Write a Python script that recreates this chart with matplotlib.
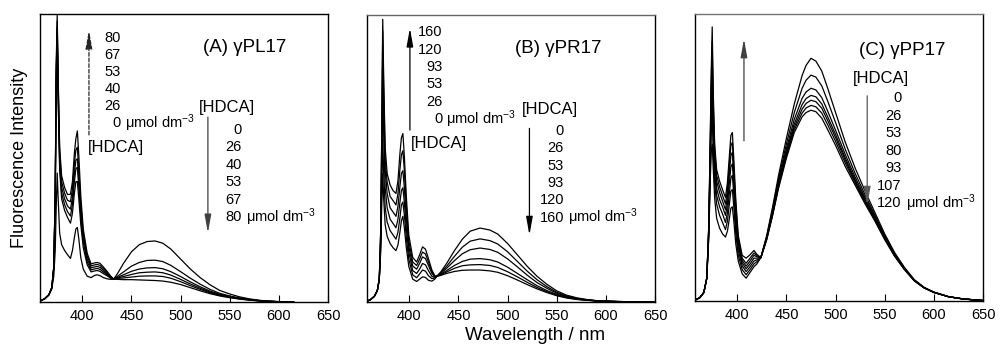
import matplotlib
matplotlib.use('Agg')
import matplotlib.pyplot as plt

plt.rcParams['font.family'] = ['Liberation Sans', 'DejaVu Sans']
plt.rcParams['mathtext.fontset'] = 'custom'
plt.rcParams['mathtext.rm'] = 'Liberation Sans'
plt.rcParams['mathtext.it'] = 'Liberation Sans:italic'

# ---- (A) gamma-PL17 ----
wl_a = [357, 362, 366, 369, 371, 372.5, 373.5, 374.5, 375.5, 377, 379, 382, 385, 388, 390, 392,
        393.5, 395, 396.5, 398.5, 401, 405, 409, 412, 415, 418, 421, 425, 429, 432, 436, 442,
        450, 458, 466, 474, 482, 490, 500, 510, 520, 530, 540, 550, 560, 570, 580, 590, 600, 615]
a_0 = [0.3, 1.2, 2.5, 4.5, 9, 18, 33, 45, 36, 24, 20, 18, 16.5, 15.2, 18, 22.5, 25.5, 26, 22, 15.5,
       11.5, 9, 8.5, 9.2, 9.5, 9.2, 8.6, 8.1, 7.9, 8.0, 10, 13.5, 17.5, 20, 21.1, 21.3, 20.5, 18.5, 15, 11.5,
       8.5, 6, 4, 2.8, 1.8, 1.1, 0.6, 0.3, 0.15, 0.0]
a_26 = [0.3, 1.2, 2.5, 5, 12, 35, 75, 92, 70, 46, 36, 32, 29.5, 27.5, 31, 38, 42, 42, 36, 27,
        19, 13, 10.5, 10.8, 11, 10.7, 10, 9.2, 8.3, 8.0, 9, 10.5, 12.5, 13.8, 14.5, 14.6, 14.1, 12.8, 10.6, 8.3,
        6.2, 4.4, 3.0, 2.1, 1.4, 0.9, 0.5, 0.3, 0.1, 0.0]
a_40 = [0.3, 1.2, 2.5, 5, 12, 36, 77, 94, 72, 48, 38, 34, 31.5, 30, 34, 42, 46.5, 47, 40, 30,
        21, 14, 11.2, 11.5, 11.7, 11.4, 10.6, 9.6, 8.4, 8.0, 8.6, 9.5, 10.7, 11.5, 11.9, 12.0, 11.6, 10.6, 8.9, 7.0,
        5.3, 3.8, 2.7, 1.9, 1.3, 0.8, 0.5, 0.25, 0.1, 0.0]
a_53 = [0.3, 1.2, 2.5, 5, 12, 37, 79, 96, 74, 50, 40, 36, 33.5, 32.4, 36.5, 45, 49.5, 50, 43, 32,
        22.5, 15, 11.9, 12.2, 12.4, 12.1, 11.2, 10.0, 8.6, 8.0, 8.4, 8.9, 9.6, 10.2, 10.4, 10.5, 10.2, 9.4, 7.9, 6.3,
        4.8, 3.5, 2.5, 1.8, 1.2, 0.8, 0.45, 0.25, 0.1, 0.0]
a_67 = [0.3, 1.2, 2.5, 5, 12, 38, 81, 98, 76, 52, 42, 38, 35.5, 35, 39.5, 48.5, 53, 54, 46, 34,
        24, 16, 12.6, 12.9, 13.1, 12.8, 11.8, 10.4, 8.8, 8.0, 8.2, 8.4, 8.7, 9.0, 9.1, 9.1, 8.9, 8.3, 7.1, 5.7,
        4.4, 3.2, 2.3, 1.7, 1.1, 0.7, 0.4, 0.2, 0.1, 0.0]
a_80 = [0.3, 1.2, 2.5, 5, 12, 39, 83, 100, 78, 54, 44, 40, 37.5, 37.6, 42, 52, 57, 59.7, 51, 37,
        25.5, 17, 13.3, 13.6, 13.8, 13.5, 12.4, 10.8, 9.0, 8.0, 7.9, 7.8, 7.8, 7.7, 7.6, 7.5, 7.3, 6.9, 6.1, 5.0,
        3.9, 2.9, 2.1, 1.5, 1.0, 0.65, 0.35, 0.2, 0.1, 0.0]
conc_a = ['0', '26', '40', '53', '67', '80']

# ---- (B) gamma-PR17 ----
wl_b = [357, 360.5, 364.5, 367.5, 369.5, 371, 372, 373, 374, 375.5, 377.5, 380.5, 383.5, 386.5,
        388.5, 390.5, 392, 393.5, 395, 397, 399.5, 403.5, 407.5, 410.5, 413.5, 416.5, 419.5, 423,
        426, 428, 432, 438, 446, 454, 462, 472, 482, 490, 500, 510, 520, 530, 540, 550, 560, 570,
        580, 590, 600, 615, 630, 649]
b_0 = [0.3, 0.8, 2, 4, 8, 18, 34, 45, 36, 27, 23, 20.5, 19, 18, 20, 24.5, 28.5, 30, 26, 19,
       12.5, 8, 7.2, 8, 8.8, 8.6, 7.6,
       7.3, 8.0, 9.0, 10.5, 13.5, 18, 22, 24.8, 25.9, 25.2, 23.8, 20.5, 16.5, 12.5, 9.0, 6.2, 3.9, 2.4,
       1.5, 0.9, 0.5, 0.3, 0.15, 0.05, 0.0]
b_26 = [0.3, 0.8, 2, 4, 8, 20, 40, 57, 45, 33, 28, 25, 23.5, 22, 24.5, 29.5, 34, 35, 30.5, 22.5,
        15, 9.5, 8.5, 9.8, 11.2, 10.8, 9.2,
        8.2, 8.4, 9.0, 10.2, 12.5, 16, 19.2, 21.3, 22.1, 21.5, 20.3, 17.6, 14.2, 10.8, 7.8, 5.4, 3.4, 2.1,
        1.3, 0.8, 0.45, 0.3, 0.15, 0.05, 0.0]
b_53 = [0.3, 0.8, 2, 4, 8, 22, 48, 75, 58, 40, 33, 29, 27.5, 26, 29, 35, 39, 40, 35, 26,
        17.5, 11, 10, 11.5, 13.5, 13, 11,
        9.0, 8.6, 9.0, 10.0, 11.8, 14.5, 16.9, 18.3, 18.9, 18.4, 17.4, 15.1, 12.3, 9.4, 6.8, 4.8, 3.1, 1.9,
        1.2, 0.75, 0.45, 0.3, 0.15, 0.05, 0.0]
b_93 = [0.3, 0.8, 2, 4, 8, 24, 55, 88, 68, 46, 38, 33, 31.5, 30, 33.5, 40.5, 45, 46, 40, 29.5,
        19.5, 12.6, 11.5, 13.5, 15.8, 15.2, 12.8,
        10.0, 8.8, 9.0, 9.7, 11.0, 12.8, 14.2, 15.0, 15.2, 14.8, 14.0, 12.2, 10.0, 7.8, 5.7, 4.0, 2.7, 1.7,
        1.1, 0.7, 0.4, 0.25, 0.1, 0.05, 0.0]
b_120 = [0.3, 0.8, 2, 4, 8, 25, 58, 95, 74, 50, 42, 37, 35.5, 34, 38, 46.5, 51.5, 53, 46, 33.5,
         21.5, 14, 12.8, 15, 17.5, 16.8, 14,
         10.6, 9.0, 9.0, 9.5, 10.5, 11.8, 12.7, 13.0, 13.1, 12.8, 12.1, 10.6, 8.8, 6.9, 5.1, 3.6, 2.4, 1.6,
         1.0, 0.65, 0.4, 0.25, 0.1, 0.05, 0.0]
b_160 = [0.3, 0.8, 2, 4, 8, 26, 60, 99, 78, 54, 45, 41, 39, 38, 42.5, 52, 57.5, 59, 51, 37,
         23.5, 15.6, 14, 16.5, 19.3, 18.5, 15.2,
         11.2, 9.2, 9.0, 9.3, 10.0, 10.7, 11.1, 11.2, 11.2, 10.9, 10.4, 9.2, 7.7, 6.1, 4.6, 3.3, 2.2, 1.4,
         0.9, 0.6, 0.35, 0.2, 0.1, 0.05, 0.0]
conc_b = ['0', '26', '53', '93', '120', '160']

# ---- (C) gamma-PP17 ----
wl_c = [357, 362, 366, 369, 371, 372.5, 373.5, 374.5, 375.5, 377, 379, 382, 385, 388, 390, 392,
        393.5, 395, 396.5, 398.5, 401, 405, 409, 413, 417, 420,
        424, 430, 436, 442, 450, 458, 466, 470, 475, 480, 486, 492, 500, 510, 520, 530, 540, 550,
        560, 570, 580, 590, 600, 615, 630, 649]
c_0 = [0.3, 1.2, 3, 8, 22, 42, 52, 55, 47, 36, 29, 25.5, 23.5, 22.4, 24.5, 29, 32.5, 33, 28, 20,
       14, 9.5, 8, 10, 12, 13,
       15.2, 23, 33, 44, 57, 69, 79, 82.5, 85, 84, 80.5, 74.5, 66, 55.5, 46.5, 38.5, 31, 23.5, 17, 11.8,
       7.5, 4.8, 3.1, 1.5, 0.7, 0.2]
c_26 = [0.3, 1.2, 3, 8, 23, 45, 59, 65, 53, 41, 34, 30, 27.5, 25, 28, 34, 38.5, 39, 33, 23.5,
        16, 11, 9.2, 11, 13, 13.8,
        15.2, 22.6, 32.2, 42.8, 55, 66, 74.5, 77.3, 79.1, 78.4, 75.3, 70, 62.5, 53, 44.6, 37.2, 30.1, 22.9,
        16.6, 11.6, 7.4, 4.7, 3.1, 1.5, 0.7, 0.2]
c_53 = [0.3, 1.2, 3, 8, 24, 48, 64, 73, 58, 45, 37, 33, 30.5, 27.5, 31, 38, 43, 44, 37, 26.5,
        17.8, 12.3, 10.3, 12, 14, 14.4,
        15.2, 22.3, 31.5, 41.8, 53.4, 63.6, 71, 73.2, 74.5, 73.9, 71.2, 66.5, 59.8, 51.2, 43.3, 36.3, 29.5,
        22.5, 16.4, 11.5, 7.3, 4.7, 3.1, 1.5, 0.7, 0.2]
c_80 = [0.3, 1.2, 3, 8, 25, 51, 69, 80, 63, 48, 39.5, 35.5, 33, 30, 34, 41.5, 47, 48, 40.5, 29,
        19.2, 13.3, 11.3, 13, 15, 15,
        15.2, 22.1, 31, 41, 52.3, 62, 68.8, 70.9, 72, 71.5, 69, 64.5, 58.3, 50, 42.4, 35.6, 29, 22.2,
        16.2, 11.3, 7.2, 4.7, 3.0, 1.5, 0.7, 0.2]
c_93 = [0.3, 1.2, 3, 8, 25.5, 53, 73, 86, 67, 51, 42, 38, 35, 32, 36.5, 45, 51, 52, 43.5, 31.5,
        20.5, 14.2, 12.2, 14, 16, 15.5,
        15.2, 21.9, 30.6, 40.4, 51.5, 60.9, 67.2, 69.2, 70.3, 69.8, 67.5, 63.2, 57.2, 49.2, 41.8, 35.1,
        28.7, 22, 16, 11.2, 7.2, 4.6, 3.0, 1.5, 0.7, 0.2]
c_107 = [0.3, 1.2, 3, 8, 26, 55, 77, 91, 70, 53, 44, 40, 37, 34, 39, 48, 54.5, 55.5, 46.5, 33.5,
         21.8, 15, 13.2, 15, 16.8, 15.9,
         15.2, 21.7, 30.3, 40, 50.8, 60, 65.8, 67.6, 68.5, 68, 65.8, 61.7, 55.9, 48.2, 41.2, 34.6, 28.3,
         21.7, 15.8, 11.1, 7.1, 4.6, 3.0, 1.5, 0.7, 0.2]
c_120 = [0.3, 1.2, 3, 8, 26.5, 57, 80, 96, 74, 55, 46, 42, 39, 36.3, 41.5, 51, 58, 59, 49.5, 35.5,
         23, 16, 15, 16.2, 17.7, 16.3,
         15.2, 21.5, 30, 39.5, 50, 59, 64.5, 66, 66.8, 66.3, 64, 60, 54.5, 47, 40.5, 34, 28, 21.5,
         15.7, 11, 7.1, 4.6, 3.0, 1.5, 0.7, 0.2]
conc_c = ['0', '26', '53', '80', '93', '107', '120']

ticks = [400, 450, 500, 550, 600, 650]
unit = ' \u03bcmol dm$^{-3}$'

fig = plt.figure(figsize=(10.01, 3.57), dpi=100)


def column(ax, labels, x, y0, dy):
    # numbers right aligned, unit after the last one
    for i, lab in enumerate(labels):
        y = y0 - i * dy
        ax.text(x, y, lab, transform=ax.transAxes, ha='right', va='center', fontsize=10.5)
        if i == len(labels) - 1:
            ax.text(x, y, unit, transform=ax.transAxes, ha='left', va='center', fontsize=10.5)


def arrow(ax, x, y_from, y_to, color='black', ls='-'):
    ax.annotate('', xy=(x, y_to), xytext=(x, y_from), xycoords='axes fraction',
                arrowprops=dict(arrowstyle='-|>,head_length=1.0,head_width=0.18', lw=0.9,
                                color=color, linestyle=ls, shrinkA=0, shrinkB=0,
                                mutation_scale=11))


panels = [
    dict(rect=[40 / 1001, 55 / 357, 288 / 1001, 288 / 357], wl=wl_a,
         curves=[a_0, a_26, a_40, a_53, a_67, a_80], title='(A) \u03b3PL17'),
    dict(rect=[367 / 1001, 55 / 357, 288 / 1001, 287 / 357], wl=wl_b,
         curves=[b_0, b_26, b_53, b_93, b_120, b_160], title='(B) \u03b3PR17'),
    dict(rect=[695 / 1001, 56 / 357, 288 / 1001, 287 / 357], wl=wl_c,
         curves=[c_0, c_26, c_53, c_80, c_93, c_107, c_120], title='(C) \u03b3PP17'),
]

axes = []
for p in panels:
    ax = fig.add_axes(p['rect'])
    for spec in p['curves']:
        ax.plot(p['wl'], spec, color='black', lw=0.9)
    ax.set_xlim(357, 650)
    ax.set_ylim(0, 100.5)
    ax.set_xticks(ticks)
    ax.set_yticks([])
    ax.tick_params(axis='x', direction='in', length=5, width=0.8, pad=5, labelsize=10.5,
                   top=False)
    for s in ax.spines.values():
        s.set_linewidth(1.0)
    axes.append(ax)

ax_a, ax_b, ax_c = axes
ax_b.spines['top'].set_color('0.4')
ax_c.spines['top'].set_color('0.45')

# panel A annotations
ax_a.text(0.566, 0.882, panels[0]['title'], transform=ax_a.transAxes, ha='left', va='center', fontsize=13.5)
arrow(ax_a, 0.170, 0.580, 0.944, color='0.15', ls=(0, (3, 1.5)))
column(ax_a, conc_a[::-1], 0.28, 0.918, 0.0596)
ax_a.text(0.167, 0.535, '[HDCA]', transform=ax_a.transAxes, ha='left', va='center', fontsize=12)
ax_a.text(0.552, 0.677, '[HDCA]', transform=ax_a.transAxes, ha='left', va='center', fontsize=12)
arrow(ax_a, 0.583, 0.642, 0.240, color='0.25')
column(ax_a, conc_a, 0.701, 0.597, 0.0604)

# panel B annotations
ax_b.text(0.514, 0.884, panels[1]['title'], transform=ax_b.transAxes, ha='left', va='center', fontsize=13.5)
arrow(ax_b, 0.149, 0.599, 0.954)
column(ax_b, conc_b[::-1], 0.262, 0.940, 0.0604)
ax_b.text(0.153, 0.553, '[HDCA]', transform=ax_b.transAxes, ha='left', va='center', fontsize=12)
ax_b.text(0.538, 0.669, '[HDCA]', transform=ax_b.transAxes, ha='left', va='center', fontsize=12)
arrow(ax_b, 0.564, 0.605, 0.233)
column(ax_b, conc_b, 0.684, 0.596, 0.0604)

# panel C annotations
ax_c.text(0.569, 0.872, panels[2]['title'], transform=ax_c.transAxes, ha='left', va='center', fontsize=13.5)
arrow(ax_c, 0.170, 0.558, 0.913, color='0.25')
ax_c.text(0.549, 0.776, '[HDCA]', transform=ax_c.transAxes, ha='left', va='center', fontsize=12)
arrow(ax_c, 0.598, 0.715, 0.334, color='0.35')
column(ax_c, conc_c, 0.718, 0.707, 0.0610)

fig.text(0.019, 0.557, 'Fluorescence Intensity', rotation=90, ha='center', va='center', fontsize=13)
fig.text(0.535, 0.060, 'Wavelength / nm', ha='center', va='center', fontsize=13.5)

fig.savefig('out.png', dpi=100)
